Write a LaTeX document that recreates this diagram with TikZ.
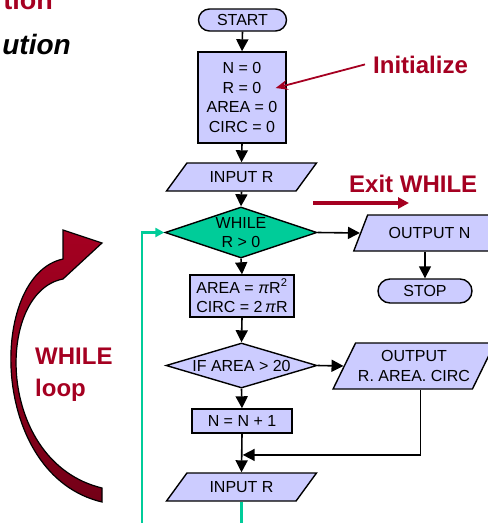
\documentclass[tikz,border=0pt]{standalone}
\usepackage{fontspec}
\setmainfont{Liberation Sans}
\usetikzlibrary{shapes.geometric,arrows.meta,calc}
\definecolor{lav}{RGB}{204,204,255}
\definecolor{teal2}{RGB}{0,204,153}
\definecolor{dred}{RGB}{165,0,33}
\begin{document}
\begin{tikzpicture}[x=1pt,y=-1pt,
  every node/.style={font=\fontsize{16}{19.5}\selectfont, inner sep=0pt, align=center},
  box/.style={draw, line width=1.4pt, fill=lav},
  term/.style={box, rounded corners=11pt},
  para/.style={box, trapezium, trapezium stretches=true, trapezium left angle=#1, trapezium right angle=180-#1},
  dia/.style={box, diamond, shape aspect=3.3},
  arr/.style={line width=1.6pt, -{Triangle[length=12pt,width=12pt]}},
  lab/.style={font=\fontsize{24}{32}\selectfont\bfseries, text=dred},
  redarr/.style={dred, line width=1.8pt, -{Stealth[length=12pt,width=10pt]}},
]
\useasboundingbox (0,0) rectangle (488,523);
\clip (0,0) rectangle (488,523);

% title fragments
\node[font=\fontsize{27}{27}\selectfont\bfseries, text=dred, anchor=base east] (t1) at (53,9) {tion};
\node[font=\fontsize{28}{28}\selectfont\bfseries\itshape, anchor=base east] (t2) at (71,54) {ution};

% flowchart nodes
\node[term, minimum width=88pt, minimum height=22pt] (start) at (242.5,20) {START};
\node[box, minimum width=88pt, minimum height=91pt] (init) at (242,97.5) {N = 0\\R = 0\\AREA = 0\\CIRC = 0};
\node[para=43, minimum width=151pt, minimum height=28pt] (in1) at (241.5,177) {INPUT R};
\node[dia, fill=teal2, minimum width=152pt, minimum height=51pt] (wh) at (241,232.5) {WHILE\\R > 0};
\node[para=51, minimum width=153pt, minimum height=36pt] (outn) at (429.5,233) {OUTPUT N};
\node[term, rounded corners=12pt, minimum width=94pt, minimum height=24pt] (stop) at (425,291) {STOP};
\node[box, minimum width=104pt, minimum height=42pt] (calc) at (242,296) {AREA = \textit{π}R\textsuperscript{2}\\CIRC = 2\,\textit{π}R};
\node[dia, minimum width=151pt, minimum height=45pt] (ifa) at (241.5,365.5) {IF AREA > 20};
\node[para=55, minimum width=162pt, minimum height=46pt] (outr) at (414,366) {OUTPUT\\R. AREA. CIRC};
\node[box, minimum width=100pt, minimum height=24pt] (inc) at (242,421) {N = N + 1};
\node[para=43, minimum width=151pt, minimum height=28pt] (in2) at (241.5,487) {INPUT R};

% connectors
\draw[arr] (start.south) -- (init.north);
\draw[arr] (init.south) -- (in1.north);
\draw[arr] (in1.south) -- (wh.north);
\draw[arr] (wh.south) -- (calc.north);
\draw[arr] (calc.south) -- (ifa.north);
\draw[arr] (ifa.south) -- (inc.north);
\draw[arr] (inc.south) -- (in2.north);
\draw[arr] (wh.east) -- (outn.left side);
\draw[arr] (outn.bottom side -| stop.north) -- (stop.north);
\draw[arr] (ifa.east) -- (outr.left side);
\coordinate (j) at ($(inc.south)!0.55!(in2.north)$);
\draw[arr] ([xshift=18pt]outr.bottom side) |- ([xshift=1pt]j);

% loop-back line
\coordinate (lb) at (142,560);
\draw[teal2, line width=2.8pt, -{Triangle[length=9pt,width=9pt]}] (in2.south) |- (lb) |- (wh.west);

% annotations
\node[lab, anchor=base west] (initlab) at (373,73) {Initialize};
\draw[redarr] ([xshift=-8pt]initlab.west) -- ([shift={(-11,-9.5)}]init.east);
\node[lab, anchor=base west] (exitlab) at (349,192) {Exit WHILE};
\draw[dred, line width=3.5pt, -{Triangle[length=11pt,width=11pt]}] ([shift={(-36,11)}]exitlab.base west) -- ++(96,0);
\node[lab, anchor=north west, align=left] (looplab) at (35,348) {WHILE\\loop};

% curved block arrow
\path[draw=black, line width=1.2pt, top color=dred, bottom color=dred!70!black]
  (63,230) -- (102,243) -- (63,279)
  .. controls (-5,292) and (-5,462) .. (102,488) -- (102,502)
  .. controls (-12,475) and (-12,275) .. (63,259) -- cycle;
\end{tikzpicture}
\end{document}
